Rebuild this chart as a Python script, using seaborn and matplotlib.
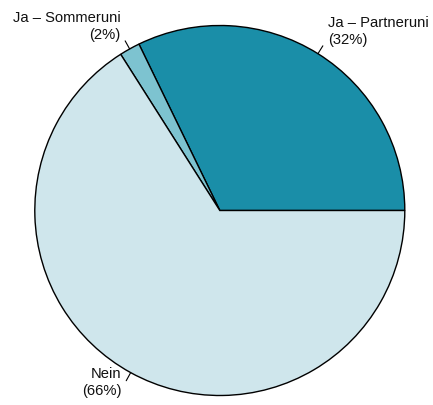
import numpy as np
import matplotlib
matplotlib.use('Agg')
import matplotlib.pyplot as plt
import seaborn as sns

# --------- DATA ----------
categories = ["Ja – Partneruni", "Ja – Sommeruni", "Nein"]
shares = [32.2, 1.8, 66.0]
pct_labels = ["(32%)", "(2%)", "(66%)"]
colors = ["#1a8ea8", "#7dc3d0", "#cfe6ec"]

sns.set_style("white")
plt.rcParams['font.family'] = ['Liberation Sans', 'DejaVu Sans']

fig = plt.figure(figsize=(4.33, 4.06), dpi=100)
ax = fig.add_axes([0, 0, 1, 1])

wedges, _ = ax.pie(shares, colors=colors, startangle=0, counterclock=True,
                   wedgeprops=dict(edgecolor='black', linewidth=1.0))

# base-R style labels: short ticks out to 1.05, text anchored at 1.1
fs = 10.6
for w, cat, pct in zip(wedges, categories, pct_labels):
    mid = np.deg2rad((w.theta1 + w.theta2) / 2)
    cx, cy = np.cos(mid), np.sin(mid)
    ax.plot([cx, 1.05 * cx], [cy, 1.05 * cy], color='black', lw=0.8)
    ha = 'left' if cx >= 0 else 'right'
    anchor = (1.1 * cx, 1.1 * cy)
    ax.annotate(pct, xy=anchor, xytext=(0, -3.8), textcoords='offset points',
                ha=ha, va='baseline', fontsize=fs, color='#111111')
    ax.annotate(cat, xy=anchor, xytext=(0, -3.8 + 12.3), textcoords='offset points',
                ha=ha, va='baseline', fontsize=fs, color='#111111')

r = 185
cxp, cyp = 219.8, 211.5
ax.set_xlim(-cxp / r, (433 - cxp) / r)
ax.set_ylim(-(406 - cyp) / r, cyp / r)
ax.set_aspect('equal')
ax.axis('off')

plt.savefig("out.png", dpi=100)
plt.close()
